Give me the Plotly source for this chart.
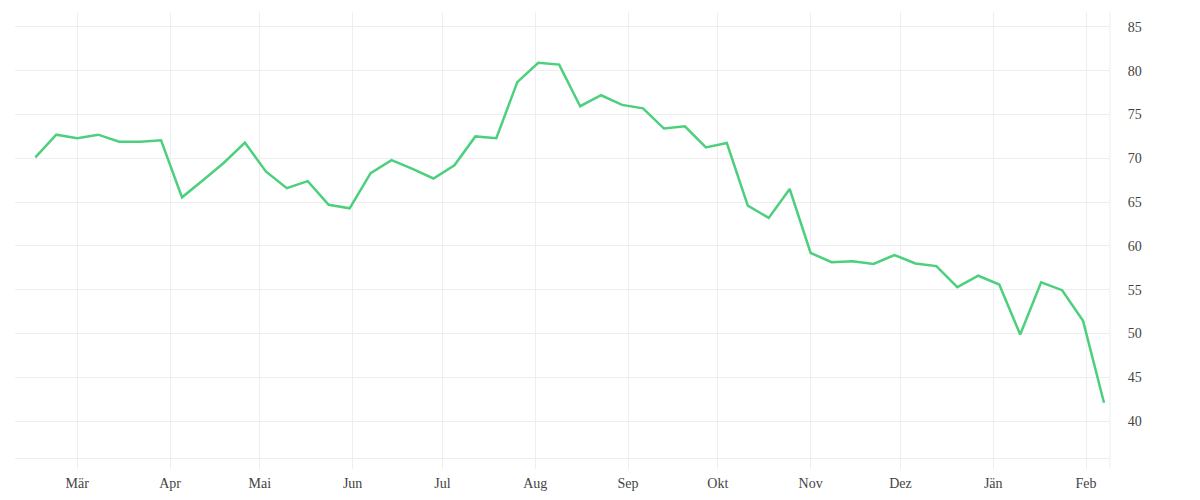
import pandas as pd
import plotly.graph_objects as go

# weekly values
start_date = "2022-02-15"
values = [70.1, 72.7, 72.3, 72.7, 71.9, 71.9, 72.05, 65.55, 67.5, 69.5,
          71.8, 68.5, 66.6, 67.4, 64.7, 64.3, 68.3, 69.8, 68.8, 67.7,
          69.2, 72.5, 72.3, 78.7, 80.9, 80.7, 75.95, 77.2, 76.1, 75.7,
          73.4, 73.65, 71.25, 71.75, 64.6, 63.2, 66.5, 59.2, 58.15, 58.25,
          57.95, 58.97, 58.0, 57.7, 55.3, 56.6, 55.6, 49.9, 55.85, 54.95,
          51.45, 42.1]
dates = pd.date_range(start_date, periods=len(values), freq="7D")

month_ticks = pd.date_range("2022-03-01", "2023-02-01", freq="MS")
month_labels = ["Mär", "Apr", "Mai", "Jun", "Jul", "Aug", "Sep", "Okt",
                "Nov", "Dez", "Jän", "Feb"]
y_ticks = [40, 45, 50, 55, 60, 65, 70, 75, 80, 85]

grid = "#eeeeee"

fig = go.Figure(go.Scatter(
    x=dates, y=values, mode="lines",
    line=dict(color="#4cd07d", width=2.5),
    hoverinfo="x+y",
))

# page body has an 8px margin, so the figure is 8px smaller each way
fig.update_layout(
    width=1192, height=492,
    margin=dict(l=7, r=90, t=4, b=42),
    plot_bgcolor="white", paper_bgcolor="white",
    showlegend=False,
    font=dict(family="Liberation Serif", size=14, color="#444444"),
    shapes=[dict(type="line", xref="paper", yref="paper",
                 x0=1, x1=1, y0=-10 / 446, y1=1,
                 line=dict(color=grid, width=1))],
)
fig.update_xaxes(
    range=["2022-02-08 05:00", "2023-02-09"],
    tickvals=month_ticks, ticktext=month_labels,
    showgrid=True, gridcolor=grid, gridwidth=1,
    ticks="outside", ticklen=10, tickcolor=grid,
    ticklabelstandoff=2,
    showline=True, linecolor=grid, zeroline=False,
)
fig.update_yaxes(
    side="right", range=[35.8, 86.7],
    tickvals=y_ticks,
    showgrid=True, gridcolor=grid, gridwidth=1,
    ticks="outside", ticklen=14, tickcolor="rgba(0,0,0,0)",
    zeroline=False,
)

fig.write_html("out.html")
